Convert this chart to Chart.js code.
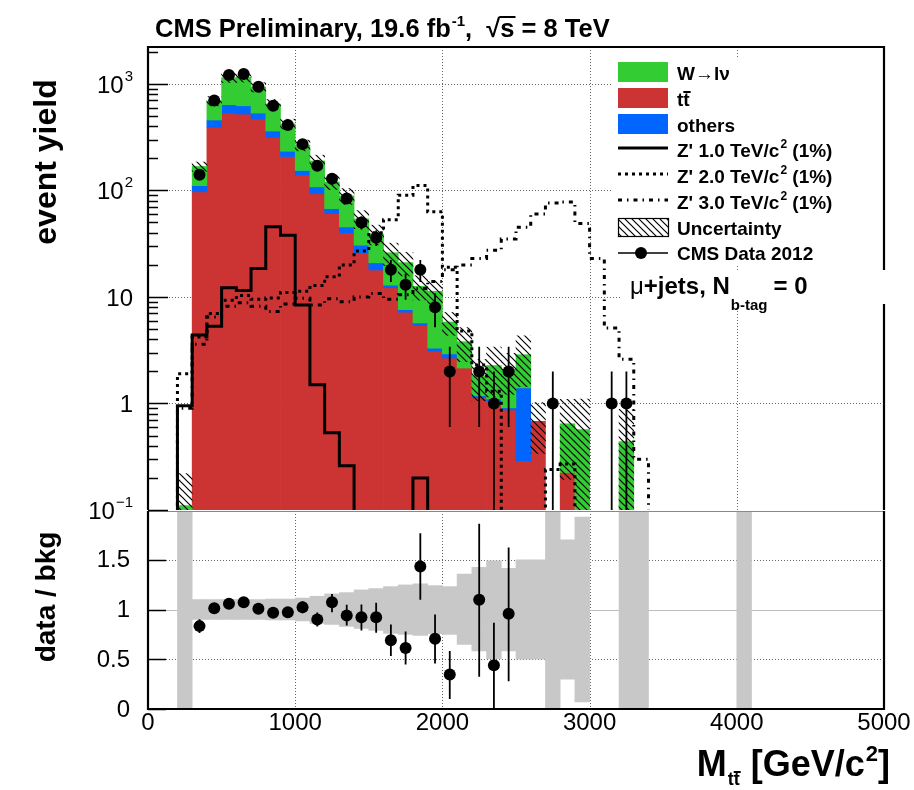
<!DOCTYPE html>
<html>
<head>
<meta charset="utf-8">
<title>M_ttbar, mu+jets, 0 b-tag</title>
<script src="https://cdn.jsdelivr.net/npm/chart.js@4.4.1/dist/chart.umd.min.js"></script>
<style>
  html, body { margin: 0; padding: 0; background: #fff; }
  #wrap { position: relative; width: 914px; height: 790px; overflow: hidden; }
  #wrap canvas { position: absolute; left: 0; }
  #ratioCanvas { top: 505px; z-index: 1; }
  #mainCanvas { top: 0; z-index: 2; }
</style>
</head>
<body>
<div id="wrap">
  <canvas id="ratioCanvas" width="914" height="285"></canvas>
  <canvas id="mainCanvas" width="914" height="530"></canvas>
</div>
<script>
// lower bin edges, GeV/c^2 (100 GeV bins)
const binLow = [200, 300, 400, 500, 600, 700, 800, 900, 1000, 1100, 1200, 1300, 1400, 1500, 1600, 1700, 1800, 1900, 2000,
  2100, 2200, 2300, 2400, 2500, 2600, 2700, 2800, 2900, 3000, 3100, 3200, 3300, 3400, 3500, 3600, 3700, 3800, 3900, 4000];

// background expectation per bin
const ttbar = [0, 97, 391, 532, 521, 468, 316, 208, 138, 93, 60.5, 39.4, 25.6, 17.9, 12.2, 7.2, 5.4, 3.1, 2.67,
  2.15, 1.13, 1.06, 0.87, 0.29, 0.68, 0, 0.225, 0, 0, 0, 0, 0, 0, 0, 0, 0, 0, 0, 0];
const others = [0, 14, 67, 105, 102, 64, 45, 25, 16, 15, 7, 6, 5, 3, 0.7, 0.4, 0.3, 0.2, 0.25,
  0, 0.05, 0.04, 0.04, 1.11, 0, 0, 0, 0, 0, 0, 0, 0, 0, 0, 0, 0, 0, 0, 0];
const wjets = [0.11, 57, 233, 508, 533, 401, 285, 189, 112, 81, 52.5, 43.6, 23.4, 18.1, 13.1, 13.4, 6.9, 8.0, 2.9,
  1.65, 0.64, 1.17, 1.18, 1.47, 0, 0, 0.42, 0.57, 0, 0, 0.44, 0, 0, 0, 0, 0, 0, 0, 0];

// Z' signals (1% width)
const zp1 = [0, 0.95, 4.4, 5.3, 12.2, 11.5, 18.5, 45.5, 38, 8.4, 1.5, 0.53, 0.26, 0, 0, 0, 0, 0.2, 0,
  0, 0, 0, 0, 0, 0, 0, 0, 0, 0, 0, 0, 0, 0, 0, 0, 0, 0, 0, 0];
const zp2 = [0, 1.9, 4.2, 7.0, 9.3, 10.3, 9.5, 9.8, 11, 11.3, 12.8, 15.5, 20, 27, 40, 53, 90, 111, 63,
  19, 4.8, 2.3, 1.3, 0, 0, 0, 0.24, 0.27, 0, 0, 0, 0, 0, 0, 0, 0, 0, 0, 0];
const zp3 = [0, 0.9, 3.6, 6.5, 8.2, 8.8, 8.2, 7.3, 8.6, 9.7, 8.4, 9.6, 9.0, 10.0, 10.8, 9.5, 10.5, 12, 14,
  18, 20, 23, 27.5, 35, 45, 60, 76, 78, 49, 23, 5.1, 2.6, 0.3, 0, 0, 0, 0, 0, 0];

// CMS data 2012
const data = [null, 140, 700, 1210, 1240, 940, 625, 411, 272, 170, 129, 84, 50, 36, 18, 13, 18, 8, 2,
  null, 2, 1, 2, null, null, 1, null, null, null, 1, 1, null, null, null, null, null, null, null, null];
const dataErr = [null, 12, 26, 35, 35, 31, 25, 20, 16, 13, 11, 9, 7, 6, 4.2, 3.6, 4.2, 2.8, 1.4,
  null, 1.4, 1, 1.4, null, null, 1, null, null, null, 1, 1, null, null, null, null, null, null, null, null];

// data / bkg
const ratio = [null, 0.833, 1.013, 1.057, 1.073, 1.007, 0.967, 0.973, 1.023, 0.90, 1.073, 0.94, 0.923, 0.923, 0.69, 0.613, 1.433, 0.707, 0.347,
  null, 1.097, 0.44, 0.957, null, null, null, null, null, null, null, null, null, null, null, null, null, null, null, null];
const ratioErrUp = [null, 0.07, 0.04, 0.03, 0.03, 0.03, 0.04, 0.05, 0.06, 0.07, 0.084, 0.107, 0.127, 0.144, 0.16, 0.167, 0.334, 0.243, 0.236,
  null, 0.766, 0.427, 0.666, null, null, null, null, null, null, null, null, null, null, null, null, null, null, null, null];
const ratioErrDn = [null, 0.07, 0.04, 0.03, 0.03, 0.03, 0.04, 0.05, 0.06, 0.07, 0.10, 0.10, 0.133, 0.156, 0.157, 0.166, 0.336, 0.25, 0.247,
  null, 0.774, 0.44, 0.677, null, null, null, null, null, null, null, null, null, null, null, null, null, null, null, null];

// relative background uncertainty (lower / upper edge)
const bandLo = [0, 0.90, 0.90, 0.90, 0.90, 0.90, 0.895, 0.895, 0.885, 0.86, 0.85, 0.83, 0.81, 0.79, 0.76, 0.75, 0.74, 0.757, 0.75,
  0.65, 0.583, 0.507, 0.583, 0.50, 0.50, 0, 0.30, 0.07, null, null, 0, 0, null, null, null, null, null, null, 0];
const bandHi = [2, 1.10, 1.10, 1.10, 1.10, 1.10, 1.105, 1.105, 1.115, 1.133, 1.157, 1.17, 1.197, 1.21, 1.23, 1.247, 1.257, 1.24, 1.23,
  1.357, 1.423, 1.49, 1.413, 1.50, 1.50, 2, 1.70, 1.93, null, null, 2, 2, null, null, null, null, null, null, 2];

// axis ticks
const xTicks = [0, 1000, 2000, 3000, 4000, 5000];
const yTicksMain = [0.1, 1, 10, 100, 1000];
const yTicksRatio = [0, 0.5, 1, 1.5];

const FONT = '"Liberation Sans", Arial, Helvetica, sans-serif';
const FLOOR = 1e-3;       // empty bins sit below the log axis
const W_COL = '#33cc33', TT_COL = '#cc3333', OTH_COL = '#0066ff', BAND_COL = '#c8c8c8';

const centers = binLow.map(x => x + 50);
const total = binLow.map((_, i) => ttbar[i] + others[i] + wjets[i]);

function hatchPattern() {
  const s = 7;
  const c = document.createElement('canvas');
  c.width = s; c.height = s;
  const g = c.getContext('2d');
  g.strokeStyle = '#000';
  g.lineWidth = 1.2;
  g.beginPath();
  g.moveTo(-1, -1); g.lineTo(s + 1, s + 1);
  g.moveTo(-1, s - 1); g.lineTo(1, s + 1);
  g.moveTo(s - 1, -1); g.lineTo(s + 1, 1);
  g.stroke();
  return document.getElementById('mainCanvas').getContext('2d').createPattern(c, 'repeat');
}
const hatch = hatchPattern();

function floating(lo, hi) {
  const out = [];
  centers.forEach((x, i) => {
    const a = lo[i], b = hi[i];
    if (a == null || b == null || b <= 0 || b <= a) return;
    out.push({ x, y: [Math.max(a, FLOOR), b] });
  });
  return out;
}

function steps(vals) {
  const pts = binLow.map((x, i) => ({ x, y: vals[i] > 0 ? vals[i] : FLOOR }));
  pts.push({ x: binLow[binLow.length - 1] + 100, y: FLOOR });
  return pts;
}

const stack1 = binLow.map((_, i) => ttbar[i] + others[i]);
const hatchLo = total.map((t, i) => (t > 0 && bandLo[i] != null ? t * bandLo[i] : null));
const hatchHi = total.map((t, i) => (t > 0 && bandHi[i] != null ? t * bandHi[i] : null));

function put(ctx, s, x, y, font) {
  ctx.font = font;
  ctx.fillText(s, x, y);
  return x + ctx.measureText(s).width;
}
function width(ctx, s, font) { ctx.font = font; return ctx.measureText(s).width; }

function drawErrors(chart, vals, up, dn, lo) {
  const { ctx, chartArea: a, scales: { x, y } } = chart;
  ctx.save();
  ctx.beginPath();
  ctx.rect(a.left, a.top, a.right - a.left, a.bottom - a.top);
  ctx.clip();
  ctx.strokeStyle = '#000';
  ctx.lineWidth = 1.8;
  ctx.beginPath();
  centers.forEach((cx, i) => {
    if (vals[i] == null) return;
    const px = x.getPixelForValue(cx);
    ctx.moveTo(px, y.getPixelForValue(vals[i] + up[i]));
    ctx.lineTo(px, y.getPixelForValue(Math.max(vals[i] - dn[i], lo)));
  });
  ctx.stroke();
  ctx.restore();
}

function dottedGrid(chart, xs, ys) {
  const { ctx, chartArea: a, scales: { x, y } } = chart;
  ctx.save();
  ctx.strokeStyle = '#666';
  ctx.lineWidth = 1;
  ctx.setLineDash([1, 2]);
  ctx.beginPath();
  xs.forEach(v => { const p = Math.round(x.getPixelForValue(v)) + 0.5; ctx.moveTo(p, a.top); ctx.lineTo(p, a.bottom); });
  ys.forEach(v => { const p = Math.round(y.getPixelForValue(v)) + 0.5; ctx.moveTo(a.left, p); ctx.lineTo(a.right, p); });
  ctx.stroke();
  ctx.restore();
}

const DATA_IDX = 7;

const mainDeco = {
  id: 'mainDeco',
  beforeDatasetsDraw(chart) {
    dottedGrid(chart, xTicks.slice(1, -1), yTicksMain.slice(1));
  },
  beforeDatasetDraw(chart, args) {
    if (args.index === DATA_IDX) drawErrors(chart, data, dataErr, dataErr, FLOOR);
  },
  afterDatasetsDraw(chart) {
    const { ctx, chartArea: a, scales: { y } } = chart;
    ctx.save();

    // legend box
    ctx.fillStyle = '#fff';
    ctx.fillRect(612, 58, a.right - 613, 207);

    // frame
    ctx.strokeStyle = '#000';
    ctx.lineWidth = 2.2;
    ctx.beginPath();
    ctx.moveTo(a.left, a.bottom); ctx.lineTo(a.left, a.top); ctx.lineTo(a.right, a.top); ctx.lineTo(a.right, a.bottom);
    ctx.stroke();

    // log ticks on the left edge
    ctx.lineWidth = 1.6;
    ctx.beginPath();
    yTicksMain.forEach(d => {
      const p = Math.round(y.getPixelForValue(d)) + 0.5;
      ctx.moveTo(a.left, p); ctx.lineTo(a.left + 20, p);
      for (let m = 2; m <= 9; m++) {
        if (m * d > y.max) break;
        const q = Math.round(y.getPixelForValue(m * d)) + 0.5;
        ctx.moveTo(a.left, q); ctx.lineTo(a.left + 10, q);
      }
    });
    ctx.stroke();

    // legend entries
    const bx = 618, bw = 50, tx = 677;
    const f = 'bold 19px ' + FONT, fs = 'bold 12px ' + FONT;
    ctx.fillStyle = W_COL; ctx.fillRect(bx, 62, bw, 20);
    ctx.fillStyle = TT_COL; ctx.fillRect(bx, 88, bw, 20);
    ctx.fillStyle = OTH_COL; ctx.fillRect(bx, 114, bw, 20);
    ctx.fillStyle = '#000';
    ctx.textBaseline = 'alphabetic';
    ctx.textAlign = 'left';
    put(ctx, 'W\u2192l\u03bd', tx, 80, f);
    let t2 = put(ctx, 't', tx, 106, f);
    const t3 = put(ctx, 't', t2, 106, f);
    ctx.fillRect(t2, 91, t3 - t2 + 1, 2);
    put(ctx, 'others', tx, 132, f);
    const zRows = [["Z' 1.0 TeV/c", 150, []], ["Z' 2.0 TeV/c", 176, [3, 4]], ["Z' 3.0 TeV/c", 202, [4, 5, 1.5, 5]]];
    zRows.forEach(([lab, yc, dash]) => {
      ctx.save();
      ctx.lineWidth = 3;
      ctx.setLineDash(dash);
      ctx.beginPath(); ctx.moveTo(bx, yc - 2); ctx.lineTo(bx + bw, yc - 2); ctx.stroke();
      ctx.restore();
      let x = put(ctx, lab, tx, yc + 7, f);
      x = put(ctx, '2', x + 1, yc - 2, fs);
      put(ctx, ' (1%)', x, yc + 7, f);
    });
    ctx.fillStyle = hatch;
    ctx.fillRect(bx, 218, bw, 18);
    ctx.lineWidth = 1.2;
    ctx.strokeRect(bx + 0.5, 218.5, bw, 18);
    ctx.fillStyle = '#000';
    put(ctx, 'Uncertainty', tx, 235, f);
    ctx.lineWidth = 1.5;
    ctx.beginPath(); ctx.moveTo(bx, 253); ctx.lineTo(bx + bw, 253); ctx.stroke();
    ctx.beginPath(); ctx.arc(bx + 23, 253, 6, 0, Math.PI * 2); ctx.fill();
    put(ctx, 'CMS Data 2012', tx, 260, f);

    // channel label
    ctx.fillStyle = '#fff';
    ctx.fillRect(622, 270, 290, 34);
    ctx.fillStyle = '#000';
    let cx = put(ctx, '\u03bc', 630, 294, '24px ' + FONT);
    cx = put(ctx, '+jets, N', cx, 294, 'bold 24px ' + FONT);
    cx = put(ctx, 'b-tag', cx + 1, 310, 'bold 15px ' + FONT);
    put(ctx, '= 0', cx + 6, 294, 'bold 24px ' + FONT);
    ctx.restore();
  },
  afterDraw(chart) {
    const { ctx, chartArea: a, scales: { y } } = chart;
    ctx.save();
    ctx.fillStyle = '#000';
    ctx.textBaseline = 'alphabetic';
    ctx.textAlign = 'left';

    // y tick labels 10^n
    const fb = '24px ' + FONT, fe = '15px ' + FONT;
    yTicksMain.forEach(v => {
      const p = y.getPixelForValue(v);
      const e = Math.round(Math.log10(v));
      const base = e === 0 ? '1' : '10';
      const sup = (e === 0 || e === 1) ? '' : String(e).replace('-', '\u2212');
      const w = width(ctx, base, fb) + (sup ? width(ctx, sup, fe) + 1 : 0);
      const x0 = 133 - w;
      const x1 = put(ctx, base, x0, p + 9, fb);
      if (sup) put(ctx, sup, x1 + 1, p - 3, fe);
    });

    // title
    const ft = 'bold 25.5px ' + FONT;
    let x = put(ctx, 'CMS Preliminary, 19.6 fb', 155, 37, ft);
    x = put(ctx, '-1', x + 1, 26, 'bold 15px ' + FONT);
    x = put(ctx, ',  ', x, 37, ft);
    x = put(ctx, '\u221a', x, 37, ft);
    const s0 = x;
    x = put(ctx, 's', x, 37, ft);
    ctx.fillRect(s0 - 1, 16, x - s0 + 2, 2);
    put(ctx, ' = 8 TeV', x, 37, ft);

    // y title
    ctx.translate(56, 162);
    ctx.rotate(-Math.PI / 2);
    ctx.textAlign = 'center';
    ctx.font = 'bold 32px ' + FONT;
    ctx.fillText('event yield', 0, 0);
    ctx.restore();
  }
};

const ratioDeco = {
  id: 'ratioDeco',
  beforeDatasetsDraw(chart) {
    const { ctx, chartArea: a, scales: { y } } = chart;
    dottedGrid(chart, xTicks.slice(1, -1), [0.5, 1.5]);
    ctx.save();
    ctx.strokeStyle = '#bdbdbd';
    ctx.lineWidth = 1;
    const p = Math.round(y.getPixelForValue(1)) + 0.5;
    ctx.beginPath(); ctx.moveTo(a.left, p); ctx.lineTo(a.right, p); ctx.stroke();
    ctx.restore();
  },
  beforeDatasetDraw(chart, args) {
    if (args.index === 1) drawErrors(chart, ratio, ratioErrUp, ratioErrDn, -1);
  },
  afterDraw(chart) {
    const { ctx, chartArea: a, scales: { x, y } } = chart;
    ctx.save();
    // panel divider and frame
    ctx.strokeStyle = '#888';
    ctx.lineWidth = 1;
    ctx.beginPath(); ctx.moveTo(a.left, a.top + 0.5); ctx.lineTo(a.right, a.top + 0.5); ctx.stroke();
    ctx.strokeStyle = '#000';
    ctx.lineWidth = 2.2;
    ctx.beginPath();
    ctx.moveTo(a.left, a.top); ctx.lineTo(a.left, a.bottom); ctx.lineTo(a.right, a.bottom); ctx.lineTo(a.right, a.top);
    ctx.stroke();
    ctx.lineWidth = 1.6;
    ctx.beginPath();
    yTicksRatio.forEach(v => {
      const p = Math.round(y.getPixelForValue(v)) + 0.5;
      ctx.moveTo(a.left, p); ctx.lineTo(a.left + 18, p);
    });
    ctx.stroke();

    ctx.fillStyle = '#000';
    const fl = '24px ' + FONT;
    ctx.font = fl;
    ctx.textAlign = 'right';
    ctx.textBaseline = 'middle';
    yTicksRatio.forEach(v => ctx.fillText(String(v), 130, y.getPixelForValue(v) + 1));
    ctx.textAlign = 'center';
    ctx.textBaseline = 'alphabetic';
    xTicks.forEach(v => ctx.fillText(String(v), x.getPixelForValue(v), 225));

    // x title M_tt [GeV/c^2], right aligned
    const fx = 'bold 36px ' + FONT, fsub = 'bold 18px ' + FONT, fsup = 'bold 22px ' + FONT;
    const wTot = width(ctx, 'M', fx) + width(ctx, 'tt', fsub) + 2 + width(ctx, ' [GeV/c', fx) + width(ctx, '2', fsup) + 1 + width(ctx, ']', fx);
    ctx.textAlign = 'left';
    const by = 271;
    let px = put(ctx, 'M', 890 - wTot, by, fx);
    const ta = put(ctx, 't', px + 1, by + 9, fsub);
    const tb = put(ctx, 't', ta, by + 9, fsub);
    ctx.fillRect(ta, by - 5, tb - ta + 1, 2);
    px = put(ctx, ' [GeV/c', tb + 1, by, fx);
    px = put(ctx, '2', px + 1, by - 15, fsup);
    put(ctx, ']', px, by, fx);

    // y title
    ctx.translate(55, 92);
    ctx.rotate(-Math.PI / 2);
    ctx.textAlign = 'center';
    ctx.font = 'bold 28px ' + FONT;
    ctx.fillText('data / bkg', 0, 0);
    ctx.restore();
  }
};

const barOpts = { grouped: false, barPercentage: 1, categoryPercentage: 1, borderWidth: 0 };

new Chart(document.getElementById('mainCanvas'), {
  type: 'bar',
  data: {
    datasets: [
      { label: 'ttbar', data: floating(binLow.map(() => 0), ttbar), backgroundColor: TT_COL, order: 9, ...barOpts },
      { label: 'others', data: floating(ttbar, stack1), backgroundColor: OTH_COL, order: 8, ...barOpts },
      { label: 'W', data: floating(stack1, total), backgroundColor: W_COL, order: 7, ...barOpts },
      { label: 'Uncertainty', data: floating(hatchLo, hatchHi), backgroundColor: hatch, order: 6, ...barOpts },
      { type: 'line', label: "Z' 3.0", data: steps(zp3), stepped: 'after', borderColor: '#000', borderWidth: 3,
        borderDash: [4, 5, 1.5, 5], pointRadius: 0, order: 5, clip: 0 },
      { type: 'line', label: "Z' 2.0", data: steps(zp2), stepped: 'after', borderColor: '#000', borderWidth: 3,
        borderDash: [3, 4], pointRadius: 0, order: 4, clip: 0 },
      { type: 'line', label: "Z' 1.0", data: steps(zp1), stepped: 'after', borderColor: '#000', borderWidth: 3,
        pointRadius: 0, order: 3, clip: 0 },
      { type: 'line', label: 'CMS Data 2012', data: centers.map((x, i) => ({ x, y: data[i] })).filter(p => p.y != null),
        showLine: false, pointRadius: 6, pointBackgroundColor: '#000', pointBorderWidth: 0, order: 1 }
    ]
  },
  options: {
    responsive: false,
    animation: false,
    devicePixelRatio: 1,
    layout: { padding: { left: 148, right: 30, top: 47, bottom: 20 } },
    plugins: { legend: { display: false }, tooltip: { enabled: false } },
    scales: {
      x: { type: 'linear', offset: false, min: 0, max: 5000, display: false, ticks: { stepSize: 1000 } },
      y: { type: 'logarithmic', min: 0.1, max: 2220, display: false }
    }
  },
  plugins: [mainDeco]
});

new Chart(document.getElementById('ratioCanvas'), {
  type: 'bar',
  data: {
    datasets: [
      { label: 'band', data: floating(bandLo, bandHi), backgroundColor: BAND_COL, order: 5, ...barOpts },
      { type: 'line', label: 'data / bkg', data: centers.map((x, i) => ({ x, y: ratio[i] })).filter(p => p.y != null),
        showLine: false, pointRadius: 6, pointBackgroundColor: '#000', pointBorderWidth: 0, order: 1 }
    ]
  },
  options: {
    responsive: false,
    animation: false,
    devicePixelRatio: 1,
    layout: { padding: { left: 148, right: 30, top: 5, bottom: 81 } },
    plugins: { legend: { display: false }, tooltip: { enabled: false } },
    scales: {
      x: { type: 'linear', offset: false, min: 0, max: 5000, display: false, ticks: { stepSize: 1000 } },
      y: { type: 'linear', min: 0, max: 1.99, display: false }
    }
  },
  plugins: [ratioDeco]
});
</script>
</body>
</html>
